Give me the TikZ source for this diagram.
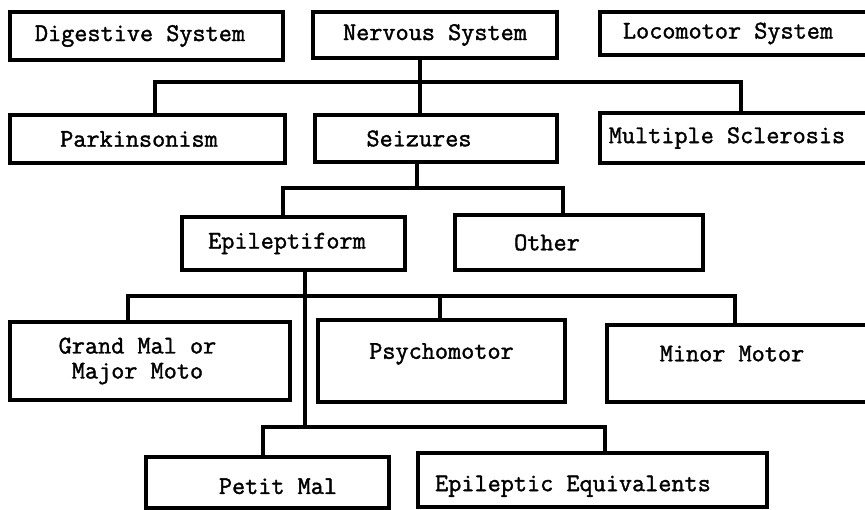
\documentclass[tikz,border=0pt]{standalone}
\usepackage{fontspec}
\newfontfamily\typer{Latin Modern Mono}[FakeBold=1.5]
\begin{document}
\begin{tikzpicture}[x=1pt,y=-1pt,
  box/.style={draw, line width=3.2pt, inner sep=0pt,
    font=\typer\fontsize{25.5}{25}\selectfont},
  nudge/.style={execute at begin node={\hspace*{#1}}},
  link/.style={line width=4pt}]
\useasboundingbox (0,0) rectangle (865,510);

% top row: body systems
\node[box, minimum width=273, minimum height=48, nudge=-13pt] (dig) at (146.5,36) {Digestive System};
\node[box, minimum width=244, minimum height=46] (nerv) at (435,35) {Nervous System};
\node[box, minimum width=285, minimum height=43, nudge=-29pt] (loco) at (742.5,33.5) {Locomotor System};

% nervous system disorders
\node[box, minimum width=275, minimum height=48, nudge=-17pt] (park) at (147.5,139) {Parkinsonism};
\node[box, minimum width=242, minimum height=47, nudge=-34pt] (seiz) at (436,138.5) {Seizures};
\node[box, minimum width=285, minimum height=50, nudge=-31pt] (ms) at (742.5,138) {Multiple Sclerosis};

% kinds of seizures
\node[box, minimum width=223, minimum height=53, nudge=-13pt] (epi) at (293.5,243.5) {Epileptiform};
\node[box, minimum width=248, minimum height=55, nudge=-64pt] (oth) at (579,242.5) {Other};

% epileptiform seizures
\node[box, minimum width=280, minimum height=78, nudge=-25pt] (gm) at (150,361)
  {\begin{tabular}{@{}c@{}}Grand Mal or\\Major Moto\end{tabular}};
\node[box, minimum width=247, minimum height=82, text depth=20pt] (psy) at (441.5,361) {Psychomotor};
\node[box, minimum width=278, minimum height=77, text depth=20pt, nudge=-28pt] (mm) at (746,363.5) {Minor Motor};
\node[box, minimum width=243, minimum height=51, text height=23pt, nudge=21pt] (pm) at (267.5,482.5) {Petit Mal};
\node[box, minimum width=349, minimum height=54, text height=28pt, nudge=-39pt] (ee) at (592.5,480) {Epileptic Equivalents};

% stems and buses
\coordinate (s1) at (420,82);
\coordinate (b1l) at (155,82);
\coordinate (b1r) at (741,82);
\draw[link] (nerv.south -| s1) -- (seiz.north -| s1);
\draw[link] (park.north -| b1l) |- (b1r) -- (ms.north -| b1r);

\coordinate (s2) at (417,188);
\coordinate (b2l) at (283,188);
\coordinate (b2r) at (563,188);
\draw[link] (seiz.south -| s2) -- (s2);
\draw[link] (epi.north -| b2l) |- (b2r) -- (oth.north -| b2r);

\coordinate (s3) at (305,427);
\coordinate (b3l) at (128,296);
\coordinate (b3m) at (440,296);
\coordinate (b3r) at (735,296);
\draw[link] (epi.south -| s3) -- (s3);
\draw[link] (gm.north -| b3l) |- (b3r) -- (mm.north -| b3r);
\draw[link] (b3m) -- (psy.north -| b3m);

\coordinate (b4l) at (263,427);
\coordinate (b4r) at (605,427);
\draw[link] (pm.north -| b4l) |- (b4r) -- (ee.north -| b4r);
\end{tikzpicture}
\end{document}
